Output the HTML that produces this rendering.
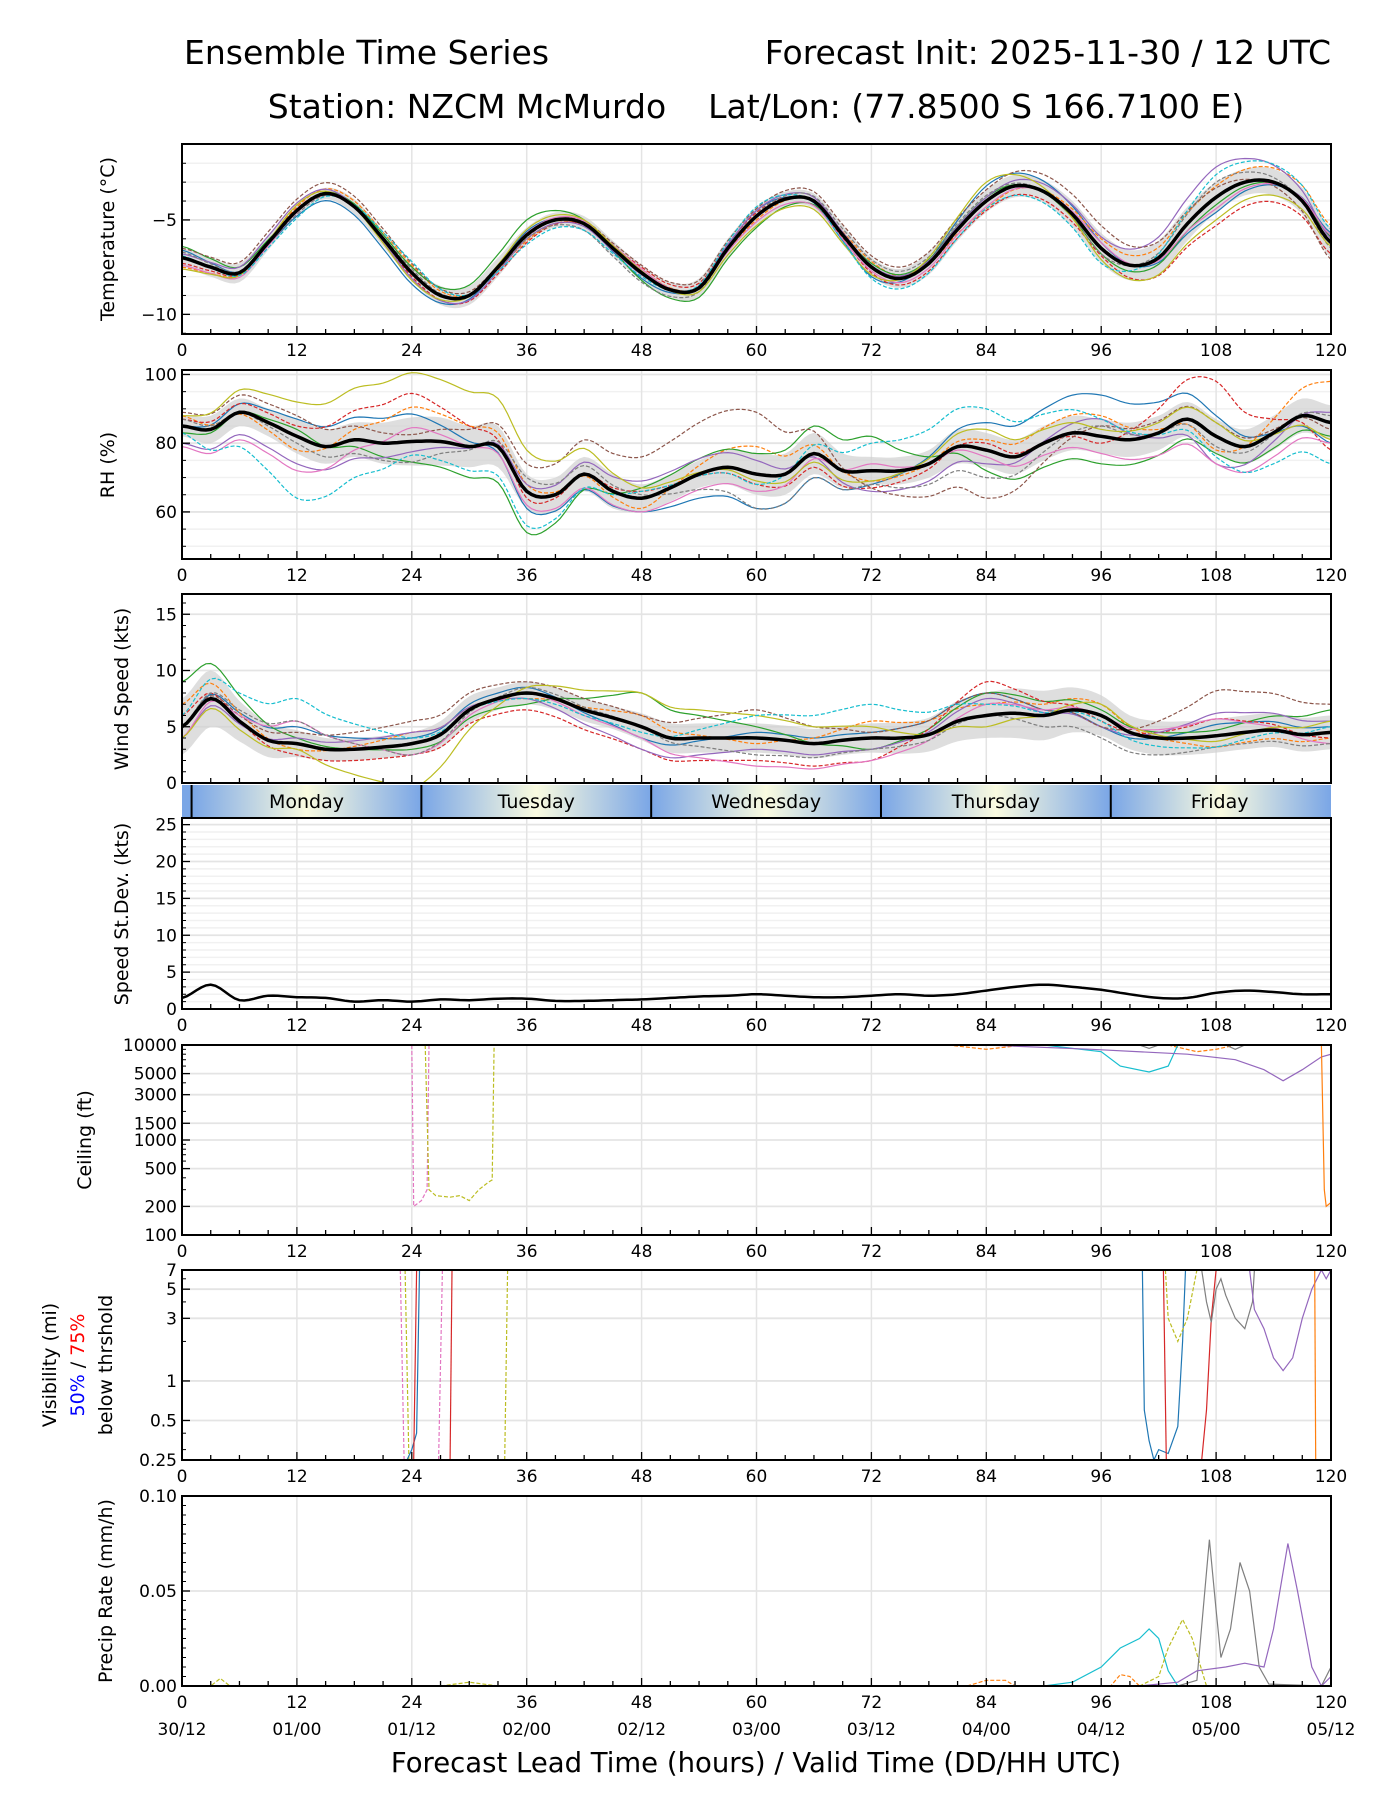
<!DOCTYPE html>
<html><head><meta charset="utf-8"><style>
html,body{margin:0;padding:0;background:#fff}
svg{display:block;font-family:"DejaVu Sans","Liberation Sans",sans-serif}
</style></head><body>
<svg id="fig" width="1400" height="1800" viewBox="0 0 1400 1800" xmlns="http://www.w3.org/2000/svg">
<text x="184" y="64" font-size="33">Ensemble Time Series</text>
<text x="1331" y="64" font-size="33" text-anchor="end">Forecast Init: 2025-11-30 / 12 UTC</text>
<text x="756" y="118" font-size="33" text-anchor="middle" xml:space="preserve" style="white-space:pre">Station: NZCM McMurdo    Lat/Lon: (77.8500 S 166.7100 E)</text>
<text x="756" y="1772" font-size="27.5" text-anchor="middle">Forecast Lead Time (hours) / Valid Time (DD/HH UTC)</text>
</svg>
<script>
// ---- data ----
const hours3 = [0,3,6,9,12,15,18,21,24,27,30,33,36,39,42,45,48,51,54,57,60,63,66,69,72,75,78,81,84,87,90,93,96,99,102,105,108,111,114,117,120];
const tempMean = [-7.0,-7.5,-7.8,-6.2,-4.5,-3.6,-4.3,-6.0,-7.8,-9.0,-9.0,-7.5,-5.8,-5.0,-5.2,-6.5,-7.8,-8.7,-8.6,-6.5,-4.8,-3.9,-4.0,-5.8,-7.5,-8.1,-7.3,-5.5,-4.0,-3.2,-3.5,-4.7,-6.5,-7.4,-7.0,-5.2,-3.8,-3.0,-3.0,-4.0,-6.2];
const tempSpread = [0.5,0.5,0.5,0.4,0.3,0.3,0.4,0.4,0.4,0.5,0.5,0.5,0.4,0.4,0.4,0.4,0.4,0.4,0.5,0.5,0.5,0.4,0.4,0.5,0.5,0.5,0.6,0.6,0.6,0.6,0.6,0.7,0.8,0.8,0.9,0.9,0.8,0.7,0.7,0.7,0.8];
const rhMean = [85,84,89,86,82,79,81,80,80.5,80.5,79,79,66,65,71,66,64,67,71,73,71,71,77,72,72,72,74,79,78,76,80,83,82,81,83,87,82,79,83,88,86];
const rhSpread = [3,4,4,4,5,5,5,6,7,7,6,6,5,5,5,5,4,4,4,5,6,6,6,5,4,4,4,5,5,5,5,5,5,5,5,5,5,5,5,5,5];
const windMean = [5,7.5,5.5,3.8,3.5,3,3,3.2,3.5,4.3,6.5,7.5,8,7.5,6.5,5.8,5,4,4,4,4,3.8,3.5,3.8,4,4,4.3,5.5,6,6.2,6,6.5,6,4.5,4,4,4.2,4.5,4.7,4.3,4.5];
const windSpread = [2.5,2.5,1.8,1.5,1.2,1,1,1,1,1.2,1.2,1,1,1,1,1,1.2,1.3,1.3,1.3,1.3,1.3,1.3,1.3,1.3,1.4,1.5,1.8,2,2.2,2.2,2,1.8,1.5,1.5,1.5,1.5,1.5,1.5,1.5,1.5];
const sdevValues = [1.5,3.3,1.2,1.8,1.6,1.5,1.0,1.2,1.0,1.3,1.2,1.4,1.4,1.1,1.1,1.2,1.3,1.5,1.7,1.8,2.0,1.8,1.6,1.6,1.8,2.0,1.8,2.0,2.5,3.0,3.3,3.0,2.6,2.0,1.5,1.5,2.2,2.5,2.3,2.0,2.0];
const memberColors = ["#1f77b4","#ff7f0e","#2ca02c","#d62728","#9467bd","#8c564b","#e377c2","#7f7f7f","#bcbd22","#17becf"];
const tempOffsets = [
 [0.4,-0.3,-0.6,0.2,-0.3,0.3,-0.5,0.8,0.3,-0.8,0.5],
 [-0.5,0.2,0.4,-0.3,0.2,-0.2,0.3,-0.4,0.5,0.6,0.9],
 [0.6,0.0,0.3,0.8,-0.4,-0.6,0.2,0.2,-0.3,-0.4,0.3],
 [-0.3,0.1,-0.2,-0.4,0.3,0.2,-0.3,-0.5,-0.4,-1.5,-0.6],
 [0.2,0.4,-0.3,-0.2,-0.1,0.3,0.1,0.2,0.6,1.6,0.2],
 [0.5,0.6,0.5,-0.1,0.4,0.4,0.6,0.6,1.2,0.5,-0.9],
 [-0.4,-0.1,0.0,0.1,0.2,-0.3,-0.2,-0.3,0.3,-0.6,0.4],
 [0.3,-0.2,0.2,-0.2,-0.5,0.1,0.4,0.3,-0.3,0.8,-0.3],
 [-0.6,0.3,-0.4,0.3,0.1,-0.5,-0.4,1.0,-0.6,-1.2,-0.2],
 [0.1,-0.4,0.6,-0.5,-0.2,0.5,-0.6,-0.4,-0.8,1.2,0.7]];
const rhOffsets = [
 [0,5,8,-5,-4,-10,-4,8,12,6,-6],
 [3,-4,10,2,-3,8,-3,3,6,-4,12],
 [-2,2,-6,-12,3,6,10,-6,-8,-5,-4],
 [2,3,14,-2,2,-3,-5,2,-2,16,-8],
 [-5,-8,-3,2,5,4,-6,-4,5,-8,3],
 [4,6,2,8,12,18,-5,-14,3,4,-2],
 [-6,-10,4,-4,-4,-5,2,-2,-5,-8,-6],
 [2,-2,-6,4,1,-10,-4,-8,3,-3,2],
 [3,10,20,12,3,-2,-3,6,2,4,-5],
 [-2,-18,-4,-10,2,-3,8,12,5,-6,-12]];
const windOffsets = [
 [0,1.5,0.5,0.5,-1,0.5,0.5,2,-1,1,0.5],
 [2,-0.5,1,-0.5,1,-0.5,1.5,1,1,-1,-0.5],
 [4,0.5,-0.5,-1,3,1,-1,2,0.5,0.5,2],
 [1,-1,-1,-1.5,-2,-2,-2,3,-0.5,1.5,-0.5],
 [-1,0.5,1,-0.5,-2,-1,-1,1.5,-1,2,1],
 [0,1,2,1,1,2.5,0.5,2,-1,4,2.5],
 [-1,2,-1,0,-1,-2.5,-2,1,0,1.5,-1],
 [0,2,-1,0.5,0,-1.5,-1,0,-2,-1,-1],
 [-1,-0.5,-4,0.5,3,2,1,-1,1,-0.5,1],
 [1,4,0.5,-0.5,-0.5,2,3,1,-0.5,-1,0.5]];
const ceilSeries = [
 {c:"#e377c2",d:true,p:[[24,10000],[24.2,200],[25,230],[25.6,300],[25.8,10000]]},
 {c:"#bcbd22",d:true,p:[[0,10000],[2,10000]]},
 {c:"#bcbd22",d:true,p:[[25.4,10000],[25.8,300],[26.5,260],[28,250],[29,260],[30,230],[31,300],[32,360],[32.4,380],[32.6,10000]]},
 {c:"#ff7f0e",d:true,p:[[80,10000],[84,9000],[86,9500],[88,10000]]},
 {c:"#ff7f0e",d:true,p:[[103,10000],[106,8500],[108,9000],[110,10000]]},
 {c:"#17becf",d:false,p:[[90,10000],[96,8500],[98,6000],[101,5200],[103,6000],[104,10000]]},
 {c:"#9467bd",d:false,p:[[84,10000],[95,9000],[105,8000],[110,7000],[113,5500],[115,4200],[117,5500],[119,7500],[120,8000]]},
 {c:"#7f7f7f",d:false,p:[[100,10000],[101,9200],[102,10000]]},
 {c:"#7f7f7f",d:false,p:[[109,10000],[110,9000],[111,10000]]},
 {c:"#ff7f0e",d:false,p:[[119,10000],[119.3,300],[119.5,200],[120,220]]}];
const visSeries = [
 {c:"#e377c2",d:true,p:[[22.8,7],[23.2,0.25]]},
 {c:"#e377c2",d:true,p:[[26.8,0.25],[27.2,7]]},
 {c:"#bcbd22",d:true,p:[[23.3,7],[23.7,0.25]]},
 {c:"#bcbd22",d:true,p:[[33.7,0.25],[34,7]]},
 {c:"#1f77b4",d:false,p:[[23.5,0.25],[24,0.3],[24.5,0.4],[24.8,7]]},
 {c:"#d62728",d:false,p:[[24.2,0.25],[24.5,7]]},
 {c:"#d62728",d:false,p:[[28,0.25],[28.2,7]]},
 {c:"#1f77b4",d:false,p:[[100.3,7],[100.5,0.6],[101,0.35],[101.5,0.25],[102,0.3],[103,0.28],[104,0.45],[104.5,2],[104.8,7]]},
 {c:"#d62728",d:false,p:[[102.5,7],[102.8,0.25]]},
 {c:"#d62728",d:false,p:[[106.5,0.25],[107,0.6],[107.5,3],[108,7]]},
 {c:"#bcbd22",d:true,p:[[102.7,7],[103,3],[104,2],[105,3],[106,7]]},
 {c:"#7f7f7f",d:false,p:[[106.5,7],[107,4],[107.5,2.8],[108,5],[108.5,6],[109,4.5],[110,3],[111,2.5],[111.8,4],[112,7]]},
 {c:"#9467bd",d:false,p:[[111.5,7],[112,3.5],[113,2.5],[114,1.5],[115,1.2],[116,1.5],[117,3],[118,5],[119,7],[119.5,6],[120,7]]},
 {c:"#ff7f0e",d:false,p:[[118.3,7],[118.4,0.25]]}];
const precipSeries = [
 {c:"#17becf",d:false,p:[[90,0],[93,0.002],[96,0.01],[98,0.02],[100,0.025],[101,0.03],[102,0.025],[103,0.008],[104,0],[120,0]]},
 {c:"#bcbd22",d:true,p:[[100,0],[102,0.005],[103,0.02],[104.5,0.035],[105.5,0.025],[107,0]]},
 {c:"#7f7f7f",d:false,p:[[104,0],[106,0.003],[107,0.06],[107.3,0.077],[108,0.04],[108.5,0.015],[109.5,0.03],[110.5,0.065],[111.5,0.05],[112.5,0.01],[113.5,0.001],[119,0],[120,0.01]]},
 {c:"#9467bd",d:false,p:[[0,0],[100,0],[104,0.002],[106,0.008],[109,0.01],[111,0.012],[113,0.01],[114,0.03],[115,0.06],[115.5,0.075],[116.5,0.05],[118,0.01],[119,0],[120,0.005]]},
 {c:"#bcbd22",d:true,p:[[0,0],[3,0],[4,0.004],[5,0],[27,0],[30,0.002],[33,0],[120,0]]},
 {c:"#ff7f0e",d:true,p:[[82,0],[84,0.003],[86,0.003],[87,0],[97,0],[98,0.006],[99,0.005],[100,0]]}];
const xTickLabels = ["0","12","24","36","48","60","72","84","96","108","120"];
const dateLabels = ["30/12","01/00","01/12","02/00","02/12","03/00","03/12","04/00","04/12","05/00","05/12"];
const dayNames = ["Monday","Tuesday","Wednesday","Thursday","Friday"];

// ---- drawing ----
const NS="http://www.w3.org/2000/svg";
const svg=document.getElementById('fig');
const X0=182,X1=1331;
const xs=h=>X0+h/120*(X1-X0);
function mk(tag,attrs,parent){const e=document.createElementNS(NS,tag);for(const k in attrs)e.setAttribute(k,attrs[k]);(parent||svg).appendChild(e);return e;}
function txt(s,attrs,parent){const e=mk('text',attrs,parent);e.textContent=s;return e;}
function linScale(lo,hi,top,bot){return v=>bot-(v-lo)/(hi-lo)*(bot-top);}
function logScale(lo,hi,top,bot){return v=>bot-(Math.log(v)-Math.log(lo))/(Math.log(hi)-Math.log(lo))*(bot-top);}
function catmull(vals,dt){const out=[];const n=vals.length;for(let i=0;i<n-1;i++){const p0=vals[Math.max(0,i-1)],p1=vals[i],p2=vals[i+1],p3=vals[Math.min(n-1,i+2)];for(let s=0;s<6;s++){const t=s/6;const v=0.5*((2*p1)+(-p0+p2)*t+(2*p0-5*p1+4*p2-p3)*t*t+(-p0+3*p1-3*p2+p3)*t*t*t);out.push([ (i+t)*dt, v]);}}out.push([(n-1)*dt,vals[n-1]]);return out;}
function interp12(arr,h){const i=Math.min(9,Math.floor(h/12));const t=(h-i*12)/12;return arr[i]*(1-t)+arr[i+1]*t;}
function pathOf(pts,y){return pts.map((p,i)=>(i?'L':'M')+xs(p[0]).toFixed(1)+','+y(p[1]).toFixed(1)).join('');}

function panel(name,top,bot,y,yticks,ylabels,minorY,gridMinor,noXLabels){
  const g=mk('g',{});
  
  
  if(gridMinor){gridMinor.forEach(v=>mk('line',{x1:X0,x2:X1,y1:y(v),y2:y(v),stroke:'#f1f1f1','stroke-width':1.5},g));}
  for(let h=0;h<=120;h+=12)mk('line',{x1:xs(h),x2:xs(h),y1:top,y2:bot,stroke:'#e4e4e4','stroke-width':1.5},g);
  yticks.forEach(v=>mk('line',{x1:X0,x2:X1,y1:y(v),y2:y(v),stroke:'#e4e4e4','stroke-width':1.8},g));
  const clip=mk('clipPath',{id:'clip-'+name},g);mk('rect',{x:X0,y:top,width:X1-X0,height:bot-top},clip);
  const data=mk('g',{'clip-path':'url(#clip-'+name+')'},g);
  const ax=mk('g',{},g);
  mk('rect',{x:X0,y:top,width:X1-X0,height:bot-top,fill:'none',stroke:'#000','stroke-width':2},ax);
  for(let h=0;h<=120;h+=3){const L=h%12===0?8:5;mk('line',{x1:xs(h),x2:xs(h),y1:bot,y2:bot-L,stroke:'#000','stroke-width':1.3},ax);}
  yticks.forEach((v,i)=>{mk('line',{x1:X0,x2:X0+8,y1:y(v),y2:y(v),stroke:'#000','stroke-width':1.3},ax);
    const t=txt(ylabels[i],{x:X0-5,y:y(v)+6,'font-size':17,'text-anchor':'end'},ax);
    
    });
  (minorY||[]).forEach(v=>mk('line',{x1:X0,x2:X0+4,y1:y(v),y2:y(v),stroke:'#000','stroke-width':1},ax));
  if(!noXLabels)xTickLabels.forEach((s,i)=>{const t=txt(s,{x:xs(i*12),y:bot+22,'font-size':17,'text-anchor':'middle'},ax);
    
    });
  return data;
}
function ylab(lines,cx,cy,parentName){const t=mk('text',{transform:`translate(${cx},${cy}) rotate(-90)`,'font-size':19,'text-anchor':'middle'});
  
  
  lines.forEach(l=>{const s=mk('tspan',{fill:l[1]||'#000'},t);s.textContent=l[0];});return t;}

function ensemble(data,y,mean,spread,offsets,lw){
  const lo=catmull(mean.map((m,i)=>m-spread[i]),3),hi=catmull(mean.map((m,i)=>m+spread[i]),3);
  const band=mk('path',{d:pathOf(lo,y)+hi.slice().reverse().map(p=>'L'+xs(p[0]).toFixed(1)+','+y(p[1]).toFixed(1)).join('')+'Z',fill:'#d0d0d0','fill-opacity':0.7},data);
  
  
  offsets.forEach((off,k)=>{const vals=mean.map((m,i)=>m+interp12(off,hours3[i]));
    const p=mk('path',{d:pathOf(catmull(vals,3),y),fill:'none',stroke:memberColors[k],'stroke-width':1.2,'stroke-dasharray':k%2?'4,2':'none'},data);
    
    });
  const m=mk('path',{d:pathOf(catmull(mean,3),y),fill:'none',stroke:'#000','stroke-width':lw||3.5},data);
  
  
}
function series(data,y,list,lo){list.forEach(s=>{const p=mk('path',{d:pathOf(s.p.map(q=>[q[0],Math.max(lo,q[1])]),y),fill:'none',stroke:s.c,'stroke-width':1.2,'stroke-dasharray':s.d?'4,2':'none'},data);
  
  });}

// Temperature
let y=linScale(-11.04,-0.98,144,334);
let d=panel('temperature',144,334,y,[-10,-5],['−10','−5'],[-11,-9,-8,-7,-6,-4,-3,-2,-1],[-9,-8,-7,-6,-4,-3,-2,-1]);
ensemble(d,y,tempMean,tempSpread,tempOffsets);
ylab([['Temperature (°C)']],114,239,'temperature-y-axis-title');
// RH
y=linScale(46.3,101.3,370,559);
d=panel('rh',370,559,y,[60,80,100],['60','80','100'],[50,55,65,70,75,85,90,95],[50,55,65,70,75,85,90,95]);
ensemble(d,y,rhMean,rhSpread,rhOffsets);
ylab([['RH (%)']],114,465,'rh-y-axis-title');
// Wind
y=linScale(0,16.8,594,783);
d=panel('wind-speed',594,783,y,[0,5,10,15],['0','5','10','15'],[1,2,3,4,6,7,8,9,11,12,13,14,16],null,true);
ensemble(d,y,windMean,windSpread,windOffsets);
ylab([['Wind Speed (kts)']],128,689,'wind-y-axis-title');
// Day bar
const defs=mk('defs',{});
const gr=mk('linearGradient',{id:'dayg',x1:0,x2:1,y1:0,y2:0},defs);
[[0,'#7aa6e6'],[0.5,'#fafbe0'],[1,'#7aa6e6']].forEach(s=>mk('stop',{offset:s[0],'stop-color':s[1]},gr));
const dayG=mk('g',{});


mk('rect',{x:X0,y:785,width:xs(1)-X0,height:33,fill:'#7aa6e6'},dayG);
dayNames.forEach((n,i)=>{const a=xs(1+24*i),b=Math.min(X1,xs(25+24*i));
  mk('rect',{x:a,y:785,width:b-a,height:33,fill:'url(#dayg)'},dayG);
  mk('line',{x1:a,x2:a,y1:785,y2:818,stroke:'#000','stroke-width':2},dayG);
  const t=txt(n,{x:(xs(1+24*i)+xs(25+24*i))/2-(i==4?6:0),y:808,'font-size':19,'text-anchor':'middle'},dayG);
  
  });
// Speed st dev
y=linScale(0,25.9,818,1009);
const sdMinor=[];for(let v=1;v<26;v++)if(v%5)sdMinor.push(v);
d=panel('speed-stdev',818,1009,y,[0,5,10,15,20,25],['0','5','10','15','20','25'],sdMinor,sdMinor);
const sdp=mk('path',{d:pathOf(catmull(sdevValues,3),y),fill:'none',stroke:'#000','stroke-width':2.5},d);


ylab([['Speed St.Dev. (kts)']],128,914,'stdev-y-axis-title');
// Ceiling
y=logScale(100,10000,1045,1235);
d=panel('ceiling',1045,1235,y,[100,200,500,1000,1500,3000,5000,10000],['100','200','500','1000','1500','3000','5000','10000'],[300,400,600,700,800,900,2000,4000,6000,7000,8000,9000],null);
series(d,y,ceilSeries,100);
ylab([['Ceiling (ft)']],91,1140,'ceiling-y-axis-title');
// Visibility
y=logScale(0.25,7,1270,1460);
d=panel('visibility',1270,1460,y,[0.25,0.5,1,3,5,7],['0.25','0.5','1','3','5','7'],[0.3,0.4,2,4,6],null);
series(d,y,visSeries,0.2);
ylab([['Visibility (mi)']],56,1365,'visibility-y-axis-title');
ylab([['50%','#0000ff'],[' / ','#000'],['75%','#ff0000']],84,1365,'visibility-threshold-label');
ylab([['below thrshold']],112,1365,'visibility-threshold-subtitle');
// Precip
y=linScale(0,0.1,1496,1686);
const prMinor=[];for(let v=1;v<20;v++)if(v!==10)prMinor.push(v*0.005);
d=panel('precip',1496,1686,y,[0,0.05,0.1],['0.00','0.05','0.10'],prMinor,null);
series(d,y,precipSeries,0);
ylab([['Precip Rate (mm/h)']],112,1591,'precip-y-axis-title');
dateLabels.forEach((s,i)=>{const t=txt(s,{x:xs(i*12),y:1735,'font-size':17,'text-anchor':'middle'});
  
  });
</script>
</body></html>
